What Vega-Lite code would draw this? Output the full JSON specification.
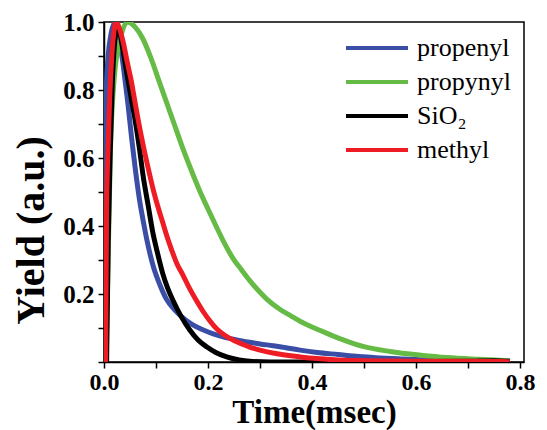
{
  "$schema": "https://vega.github.io/schema/vega-lite/v6.json",
  "width": 420,
  "height": 340,
  "autosize": {"type": "none"},
  "padding": {"left": 104, "top": 22, "right": 23, "bottom": 68},
  "background": "white",
  "config": {
    "font": "Liberation Serif",
    "view": {"stroke": "black", "strokeWidth": 1.5},
    "axis": {"grid": false, "domainColor": "black", "domainWidth": 1.5, "tickColor": "black", "tickWidth": 1.5, "labelColor": "black", "titleColor": "black", "labelFont": "Liberation Serif", "titleFont": "Liberation Serif"},
    "legend": {"labelFont": "Liberation Serif"}
  },
  "data": {"values": [
    {"t":0.002,"y":0,"s":"propenyl"},{"t":0.004,"y":0.78,"s":"propenyl"},{"t":0.008,"y":0.9,"s":"propenyl"},{"t":0.013,"y":0.96,"s":"propenyl"},{"t":0.018,"y":0.99,"s":"propenyl"},{"t":0.024,"y":1.0,"s":"propenyl"},{"t":0.03,"y":0.95,"s":"propenyl"},{"t":0.038,"y":0.86,"s":"propenyl"},{"t":0.046,"y":0.76,"s":"propenyl"},{"t":0.053,"y":0.66,"s":"propenyl"},{"t":0.06,"y":0.57,"s":"propenyl"},{"t":0.069,"y":0.47,"s":"propenyl"},{"t":0.076,"y":0.41,"s":"propenyl"},{"t":0.083,"y":0.355,"s":"propenyl"},{"t":0.095,"y":0.28,"s":"propenyl"},{"t":0.108,"y":0.225,"s":"propenyl"},{"t":0.12,"y":0.185,"s":"propenyl"},{"t":0.135,"y":0.155,"s":"propenyl"},{"t":0.152,"y":0.13,"s":"propenyl"},{"t":0.17,"y":0.11,"s":"propenyl"},{"t":0.19,"y":0.095,"s":"propenyl"},{"t":0.21,"y":0.083,"s":"propenyl"},{"t":0.229,"y":0.074,"s":"propenyl"},{"t":0.255,"y":0.065,"s":"propenyl"},{"t":0.28,"y":0.058,"s":"propenyl"},{"t":0.3,"y":0.053,"s":"propenyl"},{"t":0.325,"y":0.048,"s":"propenyl"},{"t":0.35,"y":0.042,"s":"propenyl"},{"t":0.377,"y":0.035,"s":"propenyl"},{"t":0.41,"y":0.028,"s":"propenyl"},{"t":0.45,"y":0.022,"s":"propenyl"},{"t":0.49,"y":0.016,"s":"propenyl"},{"t":0.53,"y":0.012,"s":"propenyl"},{"t":0.57,"y":0.009,"s":"propenyl"},{"t":0.6,"y":0.007,"s":"propenyl"},{"t":0.65,"y":0.005,"s":"propenyl"},{"t":0.7,"y":0.004,"s":"propenyl"},{"t":0.75,"y":0.004,"s":"propenyl"},{"t":0.78,"y":0.003,"s":"propenyl"},

    {"t":0.004,"y":0,"s":"propynyl"},{"t":0.008,"y":0.3,"s":"propynyl"},{"t":0.012,"y":0.6,"s":"propynyl"},{"t":0.02,"y":0.84,"s":"propynyl"},{"t":0.03,"y":0.94,"s":"propynyl"},{"t":0.045,"y":1.0,"s":"propynyl"},{"t":0.06,"y":0.985,"s":"propynyl"},{"t":0.075,"y":0.95,"s":"propynyl"},{"t":0.09,"y":0.895,"s":"propynyl"},{"t":0.105,"y":0.83,"s":"propynyl"},{"t":0.12,"y":0.765,"s":"propynyl"},{"t":0.135,"y":0.7,"s":"propynyl"},{"t":0.15,"y":0.635,"s":"propynyl"},{"t":0.165,"y":0.575,"s":"propynyl"},{"t":0.185,"y":0.5,"s":"propynyl"},{"t":0.2,"y":0.45,"s":"propynyl"},{"t":0.217,"y":0.395,"s":"propynyl"},{"t":0.233,"y":0.345,"s":"propynyl"},{"t":0.248,"y":0.305,"s":"propynyl"},{"t":0.265,"y":0.27,"s":"propynyl"},{"t":0.28,"y":0.24,"s":"propynyl"},{"t":0.3,"y":0.205,"s":"propynyl"},{"t":0.313,"y":0.185,"s":"propynyl"},{"t":0.338,"y":0.155,"s":"propynyl"},{"t":0.36,"y":0.135,"s":"propynyl"},{"t":0.377,"y":0.12,"s":"propynyl"},{"t":0.4,"y":0.103,"s":"propynyl"},{"t":0.42,"y":0.09,"s":"propynyl"},{"t":0.44,"y":0.077,"s":"propynyl"},{"t":0.46,"y":0.065,"s":"propynyl"},{"t":0.48,"y":0.054,"s":"propynyl"},{"t":0.5,"y":0.045,"s":"propynyl"},{"t":0.55,"y":0.031,"s":"propynyl"},{"t":0.61,"y":0.02,"s":"propynyl"},{"t":0.66,"y":0.013,"s":"propynyl"},{"t":0.72,"y":0.008,"s":"propynyl"},{"t":0.78,"y":0.004,"s":"propynyl"},

    {"t":0.005,"y":0,"s":"SiO₂"},{"t":0.008,"y":0.35,"s":"SiO₂"},{"t":0.012,"y":0.62,"s":"SiO₂"},{"t":0.016,"y":0.82,"s":"SiO₂"},{"t":0.02,"y":0.93,"s":"SiO₂"},{"t":0.025,"y":0.98,"s":"SiO₂"},{"t":0.03,"y":0.97,"s":"SiO₂"},{"t":0.035,"y":0.93,"s":"SiO₂"},{"t":0.045,"y":0.84,"s":"SiO₂"},{"t":0.053,"y":0.77,"s":"SiO₂"},{"t":0.06,"y":0.71,"s":"SiO₂"},{"t":0.068,"y":0.63,"s":"SiO₂"},{"t":0.075,"y":0.55,"s":"SiO₂"},{"t":0.085,"y":0.46,"s":"SiO₂"},{"t":0.094,"y":0.38,"s":"SiO₂"},{"t":0.103,"y":0.32,"s":"SiO₂"},{"t":0.113,"y":0.26,"s":"SiO₂"},{"t":0.123,"y":0.215,"s":"SiO₂"},{"t":0.133,"y":0.18,"s":"SiO₂"},{"t":0.148,"y":0.135,"s":"SiO₂"},{"t":0.165,"y":0.094,"s":"SiO₂"},{"t":0.18,"y":0.066,"s":"SiO₂"},{"t":0.198,"y":0.044,"s":"SiO₂"},{"t":0.215,"y":0.028,"s":"SiO₂"},{"t":0.236,"y":0.015,"s":"SiO₂"},{"t":0.26,"y":0.006,"s":"SiO₂"},{"t":0.28,"y":0.002,"s":"SiO₂"},{"t":0.32,"y":0.0,"s":"SiO₂"},{"t":0.4,"y":0.0,"s":"SiO₂"},{"t":0.5,"y":0.0,"s":"SiO₂"},{"t":0.6,"y":0.001,"s":"SiO₂"},{"t":0.7,"y":0.002,"s":"SiO₂"},{"t":0.75,"y":0.004,"s":"SiO₂"},{"t":0.78,"y":0.002,"s":"SiO₂"},

    {"t":0.003,"y":0,"s":"methyl"},{"t":0.005,"y":0.45,"s":"methyl"},{"t":0.008,"y":0.64,"s":"methyl"},{"t":0.011,"y":0.78,"s":"methyl"},{"t":0.015,"y":0.9,"s":"methyl"},{"t":0.019,"y":0.97,"s":"methyl"},{"t":0.023,"y":1.0,"s":"methyl"},{"t":0.03,"y":0.98,"s":"methyl"},{"t":0.037,"y":0.94,"s":"methyl"},{"t":0.045,"y":0.88,"s":"methyl"},{"t":0.052,"y":0.83,"s":"methyl"},{"t":0.059,"y":0.77,"s":"methyl"},{"t":0.066,"y":0.71,"s":"methyl"},{"t":0.075,"y":0.64,"s":"methyl"},{"t":0.085,"y":0.57,"s":"methyl"},{"t":0.095,"y":0.505,"s":"methyl"},{"t":0.105,"y":0.45,"s":"methyl"},{"t":0.113,"y":0.41,"s":"methyl"},{"t":0.121,"y":0.37,"s":"methyl"},{"t":0.13,"y":0.33,"s":"methyl"},{"t":0.14,"y":0.29,"s":"methyl"},{"t":0.152,"y":0.255,"s":"methyl"},{"t":0.165,"y":0.215,"s":"methyl"},{"t":0.178,"y":0.18,"s":"methyl"},{"t":0.19,"y":0.15,"s":"methyl"},{"t":0.203,"y":0.122,"s":"methyl"},{"t":0.217,"y":0.097,"s":"methyl"},{"t":0.233,"y":0.078,"s":"methyl"},{"t":0.25,"y":0.063,"s":"methyl"},{"t":0.265,"y":0.053,"s":"methyl"},{"t":0.28,"y":0.044,"s":"methyl"},{"t":0.3,"y":0.035,"s":"methyl"},{"t":0.33,"y":0.025,"s":"methyl"},{"t":0.355,"y":0.019,"s":"methyl"},{"t":0.377,"y":0.015,"s":"methyl"},{"t":0.41,"y":0.01,"s":"methyl"},{"t":0.45,"y":0.006,"s":"methyl"},{"t":0.5,"y":0.004,"s":"methyl"},{"t":0.55,"y":0.003,"s":"methyl"},{"t":0.6,"y":0.002,"s":"methyl"},{"t":0.7,"y":0.002,"s":"methyl"},{"t":0.78,"y":0.001,"s":"methyl"}
  ]},
  "mark": {"type": "line", "strokeWidth": 5, "clip": true, "interpolate": "monotone"},
  "encoding": {
    "x": {
      "field": "t", "type": "quantitative",
      "scale": {"domain": [0, 0.8077], "nice": false, "zero": false},
      "axis": {
        "title": "Time(msec)", "titleFont": "Liberation Serif", "titleFontSize": 33, "titleFontWeight": "bold",
        "titleBaseline": "alphabetic", "titleY": 60, "titleX": 210,
        "values": [0, 0.1, 0.2, 0.3, 0.4, 0.5, 0.6, 0.7, 0.8],
        "format": ".1f",
        "labelExpr": "round(datum.value * 10) % 2 == 0 ? datum.label : ''",
        "labelFont": "Liberation Serif", "labelFontSize": 24, "labelFontWeight": "bold", "labelPadding": 2, "tickSize": 6, "labelFlush": false
      }
    },
    "y": {
      "field": "y", "type": "quantitative",
      "scale": {"domain": [0, 1], "nice": false},
      "axis": {
        "title": "Yield (a.u.)", "titleFont": "Liberation Serif", "titleFontSize": 40, "titleFontWeight": "bold",
        "titleBaseline": "alphabetic", "titleX": -61, "titleY": 208, "titleAngle": -90, "titleAlign": "center",
        "values": [0, 0.1, 0.2, 0.3, 0.4, 0.5, 0.6, 0.7, 0.8, 0.9, 1.0],
        "format": ".1f",
        "labelExpr": "datum.value > 0.05 && round(datum.value * 10) % 2 == 0 ? datum.label : ''",
        "labelFont": "Liberation Serif", "labelFontSize": 25, "labelFontWeight": "bold", "labelPadding": 4, "tickSize": 6, "labelFlush": false
      }
    },
    "color": {
      "field": "s", "type": "nominal", "sort": ["propenyl", "propynyl", "SiO₂", "methyl"],
      "scale": {"domain": ["propenyl", "propynyl", "SiO₂", "methyl"], "range": ["#3a4ea6", "#66bb46", "#000000", "#ee1d25"]},
      "legend": {
        "title": null, "orient": "none", "legendX": 260, "legendY": 13,
        "symbolType": "M-3,0H3", "symbolSize": 427, "symbolStrokeWidth": 4,
        "labelFont": "Liberation Serif", "labelFontSize": 26, "labelColor": "black", "labelOffset": 27,
        "rowPadding": 8, "padding": 0, "labelLimit": 300
      }
    },
    "order": {"value": 0}
  }
}
